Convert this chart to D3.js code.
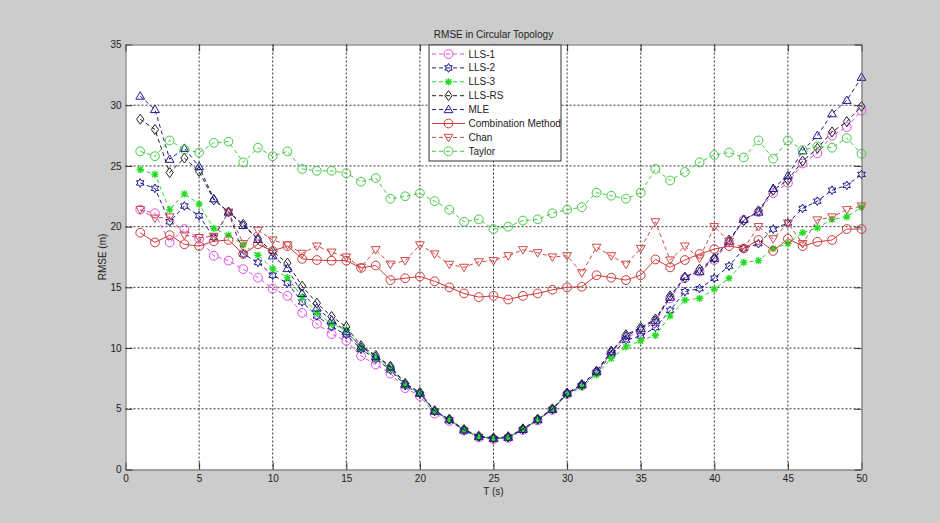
<!DOCTYPE html>
<html>
<head>
<meta charset="utf-8">
<script src="https://cdn.jsdelivr.net/npm/d3@7"></script>
<style>
    body { margin: 0; background: #cccccc; }
    svg { display: block; font-family: "Liberation Sans", Arial, sans-serif; }
</style>
</head>
<body>
<svg id="chart" width="940" height="523"></svg>
<script>

// T (s)
var tValues = [1, 2, 3, 4, 5, 6, 7, 8, 9, 10, 11, 12, 13, 14, 15, 16, 17, 18, 19, 20,
    21, 22, 23, 24, 25, 26, 27, 28, 29, 30, 31, 32, 33, 34, 35, 36, 37, 38, 39, 40,
    41, 42, 43, 44, 45, 46, 47, 48, 49, 50];

var lls1 = [21.4, 21.1, 18.7, 19.8, 19.0, 17.6, 17.2, 16.5, 15.8, 14.9, 14.3, 12.9, 12.0, 11.15, 10.6,
    9.35, 8.65, 7.9, 6.7, 6.05, 4.6, 4.0, 3.2, 2.65, 2.5, 2.6, 3.25, 4.05, 4.9, 6.2,
    6.9, 8.0, 9.6, 10.9, 11.35, 12.2, 14.1, 15.75, 16.3, 17.25, 18.7, 20.55, 21.2, 22.75, 23.6,
    25.2, 26.05, 27.5, 28.2, 29.55];

var lls2 = [23.6, 23.15, 20.4, 21.7, 20.9, 19.1, 21.2, 17.75, 17.05, 16.0, 15.35, 13.8, 12.65, 11.75, 11.1,
    9.9, 9.1, 8.2, 6.9, 6.2, 4.8, 4.1, 3.25, 2.7, 2.55, 2.65, 3.3, 4.1, 4.95, 6.2,
    6.9, 7.95, 9.45, 10.65, 11.0, 11.7, 13.1, 14.65, 14.9, 15.75, 16.75, 18.2, 18.6, 19.8, 20.3,
    21.5, 22.1, 23.0, 23.4, 24.3];

var lls3 = [24.7, 24.3, 21.4, 22.7, 21.85, 19.85, 19.3, 18.5, 17.65, 16.55, 15.8, 14.2, 12.9, 12.0, 11.5,
    10.0, 9.2, 8.3, 6.95, 6.25, 4.8, 4.1, 3.25, 2.7, 2.55, 2.65, 3.3, 4.1, 4.95, 6.15,
    6.8, 7.8, 9.15, 10.1, 10.6, 11.05, 12.65, 13.95, 14.1, 14.85, 15.75, 17.05, 17.2, 18.2, 18.6,
    19.5, 19.9, 20.6, 20.8, 21.6];

var llsRS = [28.85, 28.0, 24.45, 25.65, 24.55, 22.2, 21.2, 20.2, 19.0, 17.95, 17.0, 15.1, 13.7, 12.6, 11.75,
    10.2, 9.4, 8.5, 7.1, 6.35, 4.85, 4.15, 3.3, 2.75, 2.6, 2.7, 3.35, 4.15, 5.0, 6.3,
    7.0, 8.1, 9.75, 11.1, 11.7, 12.4, 14.3, 15.8, 16.5, 17.4, 18.9, 20.5, 21.3, 23.0, 23.85,
    25.4, 26.45, 27.8, 28.65, 29.9];

var mle = [30.75, 29.65, 25.55, 26.45, 24.95, 22.3, 21.2, 20.1, 18.95, 17.6, 16.55, 14.5, 13.3, 12.3, 11.35,
    10.1, 9.3, 8.45, 7.05, 6.3, 4.8, 4.1, 3.25, 2.7, 2.55, 2.65, 3.3, 4.1, 4.95, 6.3,
    7.0, 8.1, 9.7, 11.0, 11.6, 12.3, 14.2, 15.9, 16.3, 17.4, 18.8, 20.6, 21.2, 23.15, 24.2,
    26.25, 27.5, 29.3, 30.4, 32.3];

var combination = [19.5, 18.7, 19.3, 18.55, 18.4, 18.8, 18.9, 17.75, 18.55, 18.0, 18.4, 17.35, 17.25, 17.2, 17.2,
    16.6, 16.8, 15.6, 15.75, 15.9, 15.5, 15.0, 14.5, 14.2, 14.3, 14.0, 14.3, 14.5, 14.8, 15.0,
    15.05, 16.0, 15.8, 15.6, 16.0, 17.3, 16.65, 17.25, 17.75, 18.15, 18.4, 18.2, 18.9, 18.0, 19.0,
    18.4, 18.75, 18.9, 19.8, 19.8];

var chan = [21.4, 20.7, 20.8, 19.3, 19.1, 19.2, 21.2, 18.6, 19.7, 18.9, 18.5, 17.8, 18.4, 17.9, 17.5,
    16.65, 18.1, 16.9, 17.2, 18.5, 17.75, 16.9, 16.65, 17.1, 17.2, 17.6, 18.1, 17.85, 17.5, 17.6,
    16.2, 18.3, 17.6, 16.9, 18.2, 20.4, 17.25, 18.4, 17.4, 20.0, 18.8, 18.2, 20.0, 19.0, 20.3,
    18.6, 20.55, 20.8, 21.4, 21.7];

var taylor = [26.2, 25.8, 27.1, 26.35, 26.1, 26.9, 27.0, 25.3, 26.5, 25.8, 26.2, 24.75, 24.6, 24.6, 24.4,
    23.7, 24.0, 22.3, 22.5, 22.75, 22.1, 21.4, 20.4, 20.6, 19.8, 20.0, 20.5, 20.6, 21.1, 21.4,
    21.6, 22.8, 22.55, 22.3, 22.8, 24.75, 23.8, 24.5, 25.3, 25.9, 26.1, 25.7, 27.1, 25.6, 27.1,
    26.3, 26.6, 26.5, 27.3, 26.0];

var seriesNames = ["LLS-1", "LLS-2", "LLS-3", "LLS-RS", "MLE", "Combination Method", "Chan", "Taylor"];
var seriesValues = [lls1, lls2, lls3, llsRS, mle, combination, chan, taylor];

var xTicks = [0, 5, 10, 15, 20, 25, 30, 35, 40, 45, 50];
var yTicks = [0, 5, 10, 15, 20, 25, 30, 35];

var chartTitle = "RMSE in Circular Topology";
var xLabel = "T (s)";
var yLabel = "RMSE (m)";


// Line look for each series (same order as seriesNames)
var styles = [
    {color: "#e050e0", dash: "4,3", marker: "circle"},
    {color: "#1c1c90", dash: "4,3", marker: "hexagram"},
    {color: "#22dd22", dash: "4,3", marker: "asterisk"},
    {color: "#222222", dash: "4,3", marker: "diamond"},
    {color: "#1c1c90", dash: "4,3", marker: "triangleUp"},
    {color: "#d03a3a", dash: null, marker: "circle"},
    {color: "#d04848", dash: "4,3", marker: "triangleDown"},
    {color: "#44cc44", dash: "4,3", marker: "circle"}
];


/*****************************/
// Marker shapes
/*****************************/

var markerPath = function(kind) {
    var p = d3.path();
    var s = 4.4;
    if (kind == "circle") {
        p.arc(0, 0, s, 0, 2 * Math.PI);
    } else if (kind == "diamond") {
        p.moveTo(0, -s - 0.6); p.lineTo(s - 0.8, 0); p.lineTo(0, s + 0.6); p.lineTo(-s + 0.8, 0); p.closePath();
    } else if (kind == "triangleUp") {
        p.moveTo(0, -s); p.lineTo(s, s * 0.7); p.lineTo(-s, s * 0.7); p.closePath();
    } else if (kind == "triangleDown") {
        p.moveTo(0, s); p.lineTo(s, -s * 0.7); p.lineTo(-s, -s * 0.7); p.closePath();
    } else if (kind == "hexagram") {
        for (var i = 0; i < 12; i++) {
            var r = (i % 2 == 0) ? s : s * 0.55;
            var a = -Math.PI / 2 + i * Math.PI / 6;
            if (i == 0) p.moveTo(r * Math.cos(a), r * Math.sin(a));
            else p.lineTo(r * Math.cos(a), r * Math.sin(a));
        }
        p.closePath();
    } else if (kind == "asterisk") {
        var a2 = 3.6, d2 = 2.6;
        p.moveTo(-a2, 0); p.lineTo(a2, 0);
        p.moveTo(0, -a2); p.lineTo(0, a2);
        p.moveTo(-d2, -d2); p.lineTo(d2, d2);
        p.moveTo(-d2, d2); p.lineTo(d2, -d2);
    }
    return p.toString();
}


/*****************************/
// Chart frame
/*****************************/

var svg = d3.select("#chart");

svg.append("rect")
    .attr("width", 940)
    .attr("height", 523)
    .attr("fill", "#cccccc");

var plot = {left: 125.5, right: 861.5, top: 44.5, bottom: 469.5};

var x = d3.scaleLinear().domain([0, 50]).range([plot.left, plot.right]);
var y = d3.scaleLinear().domain([0, 35]).range([plot.bottom, plot.top]);

// White axes area
svg.append("rect")
    .attr("x", plot.left)
    .attr("y", plot.top)
    .attr("width", plot.right - plot.left)
    .attr("height", plot.bottom - plot.top)
    .attr("fill", "#ffffff");

// Dotted grid
var grid = svg.append("g").attr("class", "grid");

grid.selectAll(".vgrid")
    .data(xTicks.slice(1, -1))
    .enter().append("line")
    .attr("x1", function(d) { return x(d); })
    .attr("x2", function(d) { return x(d); })
    .attr("y1", plot.top)
    .attr("y2", plot.bottom)
    .attr("stroke", "#333")
    .attr("stroke-width", 1)
    .attr("stroke-dasharray", "2,2");

grid.selectAll(".hgrid")
    .data(yTicks.slice(1, -1))
    .enter().append("line")
    .attr("x1", plot.left)
    .attr("x2", plot.right)
    .attr("y1", function(d) { return y(d); })
    .attr("y2", function(d) { return y(d); })
    .attr("stroke", "#333")
    .attr("stroke-width", 1)
    .attr("stroke-dasharray", "2,2");


/*****************************/
// Series
/*****************************/

var line = d3.line()
    .x(function(d) { return x(d[0]); })
    .y(function(d) { return y(d[1]); });

seriesValues.forEach(function(vals, k) {

    var st = styles[k];
    var pts = tValues.map(function(t, i) { return [t, vals[i]]; });

    var g = svg.append("g").attr("class", "series");

    g.append("path")
        .datum(pts)
        .attr("d", line)
        .attr("fill", "none")
        .attr("stroke", st.color)
        .attr("stroke-width", 1)
        .attr("stroke-dasharray", st.dash);

    g.selectAll(".marker")
        .data(pts)
        .enter().append("path")
        .attr("class", "marker")
        .attr("transform", function(d) { return "translate(" + x(d[0]) + "," + y(d[1]) + ")"; })
        .attr("d", markerPath(st.marker))
        .attr("fill", "none")
        .attr("stroke", st.color)
        .attr("stroke-width", st.marker == "asterisk" ? 1.4 : 1);
});


/*****************************/
// Axes (ticks inside, box on)
/*****************************/

var axisColor = "#666";

var styleAxis = function(g) {
    g.select(".domain").attr("stroke", axisColor);
    g.selectAll(".tick line").attr("stroke", "#333");
    g.selectAll(".tick text").attr("fill", "#222").attr("font-size", "10px")
        .attr("font-family", "'Liberation Sans', Arial, sans-serif");
}

svg.append("g")
    .attr("transform", "translate(0," + plot.bottom + ")")
    .call(d3.axisBottom(x).tickValues(xTicks).tickSizeInner(-7).tickSizeOuter(0).tickPadding(5))
    .call(styleAxis);

svg.append("g")
    .attr("transform", "translate(" + plot.left + ",0)")
    .call(d3.axisLeft(y).tickValues(yTicks).tickSizeInner(-7).tickSizeOuter(0).tickPadding(4))
    .call(styleAxis);

svg.append("g")
    .attr("transform", "translate(0," + plot.top + ")")
    .call(d3.axisTop(x).tickValues(xTicks).tickSizeInner(-7).tickSizeOuter(0).tickFormat(""))
    .call(styleAxis);

svg.append("g")
    .attr("transform", "translate(" + plot.right + ",0)")
    .call(d3.axisRight(y).tickValues(yTicks).tickSizeInner(-7).tickSizeOuter(0).tickFormat(""))
    .call(styleAxis);


/*****************************/
// Labels
/*****************************/

svg.append("text")
    .attr("x", (plot.left + plot.right) / 2)
    .attr("y", 37.5)
    .attr("text-anchor", "middle")
    .attr("font-size", "10px")
    .attr("fill", "#222")
    .text(chartTitle);

svg.append("text")
    .attr("x", (plot.left + plot.right) / 2)
    .attr("y", 495)
    .attr("text-anchor", "middle")
    .attr("font-size", "10px")
    .attr("fill", "#222")
    .text(xLabel);

svg.append("text")
    .attr("transform", "translate(106," + ((plot.top + plot.bottom) / 2) + ") rotate(-90)")
    .attr("text-anchor", "middle")
    .attr("font-size", "10px")
    .attr("fill", "#222")
    .text(yLabel);


/*****************************/
// Legend
/*****************************/

var legend = svg.append("g").attr("transform", "translate(429,45)");

legend.append("rect")
    .attr("width", 132)
    .attr("height", 116)
    .attr("fill", "#ffffff")
    .attr("stroke", "#333")
    .attr("stroke-width", 1);

var items = legend.selectAll(".item")
    .data(seriesNames)
    .enter().append("g")
    .attr("class", "item")
    .attr("transform", function(d, i) { return "translate(0," + (9 + i * 13.9) + ")"; });

items.append("line")
    .attr("x1", 3)
    .attr("x2", 36)
    .attr("stroke", function(d, i) { return styles[i].color; })
    .attr("stroke-dasharray", function(d, i) { return styles[i].dash; });

items.append("path")
    .attr("transform", "translate(19.5,0)")
    .attr("d", function(d, i) { return markerPath(styles[i].marker); })
    .attr("fill", "none")
    .attr("stroke", function(d, i) { return styles[i].color; })
    .attr("stroke-width", function(d, i) { return styles[i].marker == "asterisk" ? 1.4 : 1; });

items.append("text")
    .attr("x", 39.5)
    .attr("dy", "0.35em")
    .attr("font-size", "10px")
    .attr("fill", "#222")
    .text(function(d) { return d; });

</script>
</body>
</html>
